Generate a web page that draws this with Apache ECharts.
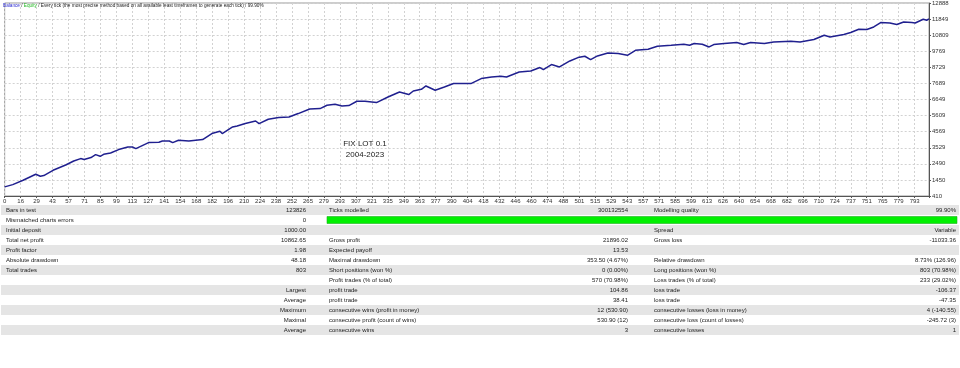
<!DOCTYPE html>
<html>
<head>
<meta charset="utf-8">
<script src="https://cdn.jsdelivr.net/npm/echarts@6/dist/echarts.min.js"></script>
<style>
html,body{margin:0;padding:0;background:#fff;}
#chart{width:960px;height:368px;}
</style>
</head>
<body>
<div id="chart"></div>
<script>
// ---- Balance curve (trade number -> balance) ----
const tradeIdx = [0,7,16,27,31,34,42,53,60,66,69,75,79,83,86,92,99,107,111,114,125,134,137,143,146,151,160,172,180,187,189,198,202,209,218,221,229,238,247,255,265,274,280,287,293,299,306,313,323,333,343,351,355,362,366,374,382,390,405,414,423,431,436,447,457,465,468,475,482,491,498,504,509,515,524,533,541,548,559,567,579,590,595,599,606,612,616,625,636,642,648,660,668,683,691,703,712,717,729,735,742,749,755,761,769,775,781,788,791,798,801,803];
const balance = [1000,1147,1425,1813,1684,1729,2072,2415,2673,2829,2764,2893,3087,2977,3107,3191,3411,3579,3579,3475,3863,3883,3967,3967,3863,4012,3967,4057,4445,4594,4445,4872,4937,5092,5260,5092,5370,5480,5519,5739,6036,6062,6276,6340,6230,6256,6534,6534,6450,6812,7136,6968,7200,7310,7524,7246,7459,7679,7679,8002,8106,8151,8106,8429,8494,8714,8584,8908,8752,9140,9360,9444,9231,9464,9658,9619,9509,9832,9897,10091,10156,10220,10156,10266,10220,10046,10201,10266,10330,10201,10330,10266,10369,10414,10369,10524,10802,10692,10848,10977,11191,11171,11339,11624,11598,11494,11663,11624,11598,11837,11772,11863];

// ---- Tick labels ----
const xTickLabels = ['0','16','29','43','57','71','85','99','113','127','141','154','168','182','196','210','224','238','252','265','279','293','307','321','335','349','363','377','390','404','418','432','446','460','474','488','501','515','529','543','557','571','585','599','613','626','640','654','668','682','696','710','724','737','751','765','779','793'];
const yTickLabels = ['410','1450','2490','3529','4569','5609','6649','7689','8729','9769','10809','11849','12888'];
const yMin = 410, yMax = 12888;
const tradeMax = 803;

// ---- Report table ----
const leftLabels  = ['Bars in test','Mismatched charts errors','Initial deposit','Total net profit','Profit factor','Absolute drawdown','Total trades','','','','','',''];
const leftValues  = ['123826','0','1000.00','10862.65','1.98','48.18','803','','Largest','Average','Maximum','Maximal','Average'];
const midLabels   = ['Ticks modelled','','','Gross profit','Expected payoff','Maximal drawdown','Short positions (won %)','Profit trades (% of total)','profit trade','profit trade','consecutive wins (profit in money)','consecutive profit (count of wins)','consecutive wins'];
const midValues   = ['300132554','','','21896.02','13.53','353.50 (4.67%)','0 (0.00%)','570 (70.98%)','104.86','38.41','12 (530.90)','530.90 (12)','3'];
const rightLabels = ['Modelling quality','','Spread','Gross loss','','Relative drawdown','Long positions (won %)','Loss trades (% of total)','loss trade','loss trade','consecutive losses (loss in money)','consecutive loss (count of losses)','consecutive losses'];
const rightValues = ['99.90%','','Variable','-11033.36','','8.73% (126.96)','803 (70.98%)','233 (29.02%)','-106.37','-47.35','4 (-140.55)','-245.72 (3)','1'];
const qualityBarRow = 1;

const titleParts = ['Balance', 'Equity', 'Every tick (the most precise method based on all available least timeframes to generate each tick)', '99.90%'];
const noteLines = ['FIX LOT 0.1', '2004-2023'];

const FONT = '"Liberation Sans", Arial, sans-serif';
const rowIdx = leftLabels.map((_, i) => i);

function txt(text, x, y, align) {
  return {
    type: 'text',
    style: {
      text: text, x: x, y: y,
      align: align, textAlign: align,
      verticalAlign: 'middle', textVerticalAlign: 'middle',
      fontSize: 6, fontFamily: FONT, fill: '#222'
    }
  };
}

function renderRow(params, api) {
  const i = api.value(1);
  const cs = params.coordSys;
  const c = api.coord([0, i]);
  const h = api.size([0, 1])[1];
  const top = c[1] - h / 2;
  const X = cs.x, W = cs.width;
  const fx = f => X + f * W;
  const children = [{
    type: 'rect',
    shape: { x: X + 1, y: top, width: W - 2, height: h },
    style: { fill: i % 2 === 0 ? '#e5e5e5' : '#ffffff' }
  }];
  if (i === qualityBarRow) {
    children.push({
      type: 'rect',
      shape: { x: fx(327 / 960), y: top + 1.5, width: fx(957 / 960) - fx(327 / 960), height: h - 3 },
      style: { fill: '#00f000', stroke: '#22b022', lineWidth: 0.6 }
    });
  }
  const y = c[1];
  if (leftLabels[i]) children.push(txt(leftLabels[i], fx(6 / 960), y, 'left'));
  if (leftValues[i]) children.push(txt(leftValues[i], fx(306 / 960), y, 'right'));
  if (midLabels[i]) children.push(txt(midLabels[i], fx(329 / 960), y, 'left'));
  if (midValues[i]) children.push(txt(midValues[i], fx(628 / 960), y, 'right'));
  if (rightLabels[i]) children.push(txt(rightLabels[i], fx(654 / 960), y, 'left'));
  if (rightValues[i]) children.push(txt(rightValues[i], fx(956 / 960), y, 'right'));
  return { type: 'group', children: children };
}

const chart = echarts.init(document.getElementById('chart'), null, { renderer: 'canvas' });
const gridLine = { show: true, lineStyle: { color: '#d2d2d2', type: [2, 2], width: 1 } };

chart.setOption({
  animation: false,
  backgroundColor: '#ffffff',
  title: [{
    text: '{b|' + titleParts[0] + '} / {e|' + titleParts[1] + '} / ' + titleParts[2] + ' / ' + titleParts[3],
    left: 3, top: 3, padding: 0,
    textStyle: {
      fontSize: 4.7, fontFamily: FONT, color: '#222', fontWeight: 'normal',
      rich: {
        b: { fontSize: 4.7, fontFamily: FONT, color: '#2b2bd0' },
        e: { fontSize: 4.7, fontFamily: FONT, color: '#22b822' }
      }
    }
  }, {
    text: noteLines.join('\n'),
    left: 365, top: 138, padding: 0, textAlign: 'center',
    textStyle: { fontSize: 8, lineHeight: 11, fontFamily: FONT, color: '#222', fontWeight: 'normal' }
  }],
  grid: [
    { left: 2, right: 31, top: 3, height: 193, show: true, borderColor: '#9a9a9a', borderWidth: 1, containLabel: false },
    { left: 0, right: 0, top: 205, height: 130, containLabel: false }
  ],
  xAxis: [
    { type: 'value', gridIndex: 0, min: 0, max: tradeMax, show: false },
    {
      type: 'value', gridIndex: 0, position: 'bottom', min: 0, max: 57.9, interval: 1,
      axisLine: { show: true, onZero: false, lineStyle: { color: '#555', width: 1 } },
      axisTick: { show: true, length: 2, lineStyle: { color: '#555' } },
      axisLabel: {
        show: true, fontSize: 6, margin: 2, color: '#333', fontFamily: FONT,
        showMinLabel: true, showMaxLabel: true,
        formatter: v => (Number.isInteger(v) && xTickLabels[v] !== undefined) ? xTickLabels[v] : ''
      },
      splitLine: gridLine
    },
    { type: 'value', gridIndex: 1, min: 0, max: 1, show: false }
  ],
  yAxis: [
    { type: 'value', gridIndex: 0, min: yMin, max: yMax, show: false },
    {
      type: 'value', gridIndex: 0, position: 'right', min: 0, max: yTickLabels.length - 1, interval: 1,
      axisLine: { show: true, onZero: false, lineStyle: { color: '#555', width: 1 } },
      axisTick: { show: true, length: 2, lineStyle: { color: '#555' } },
      axisLabel: {
        show: true, fontSize: 6, margin: 3, color: '#333', fontFamily: FONT,
        formatter: v => (Number.isInteger(v) && yTickLabels[v] !== undefined) ? yTickLabels[v] : ''
      },
      splitLine: gridLine
    },
    { type: 'category', gridIndex: 1, data: rowIdx.map(String), inverse: true, show: false }
  ],
  series: [
    {
      type: 'line', xAxisIndex: 0, yAxisIndex: 0,
      data: tradeIdx.map((t, k) => [t, balance[k]]),
      symbol: 'none', smooth: false,
      lineStyle: { color: '#20208f', width: 1.5 },
      z: 5
    },
    {
      type: 'custom', xAxisIndex: 2, yAxisIndex: 2,
      data: rowIdx.map(i => [0, i]),
      renderItem: renderRow,
      silent: true
    }
  ]
});
</script>
</body>
</html>
